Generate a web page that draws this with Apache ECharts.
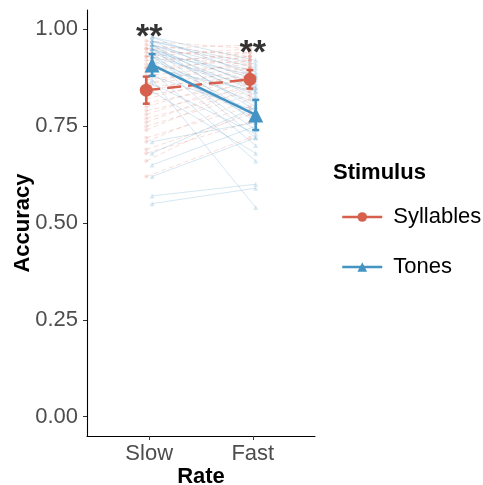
<!DOCTYPE html>
<html>
<head>
<meta charset="utf-8">
<script src="https://cdn.jsdelivr.net/npm/echarts@6/dist/echarts.min.js"></script>
<style>
  html, body { margin: 0; padding: 0; background: #fff; }
  #chart { width: 483px; height: 485px; }
</style>
</head>
<body>
<div id="chart"></div>
<script>
// categories and ticks
const rateNames = ['Slow', 'Fast'];
const yTicks = [0, 0.25, 0.5, 0.75, 1];

// per-subject accuracy (faint lines)
const syllSlow = [0.97, 0.96, 0.95, 0.95, 0.94, 0.93, 0.93, 0.92, 0.91, 0.90, 0.90, 0.89, 0.88, 0.87, 0.86, 0.86, 0.85,
  0.84, 0.83, 0.82, 0.81, 0.80, 0.79, 0.78, 0.77, 0.76, 0.75, 0.74, 0.72, 0.71, 0.69, 0.68, 0.66, 0.62];
const syllFast = [0.95, 0.93, 0.96, 0.92, 0.94, 0.95, 0.91, 0.93, 0.94, 0.90, 0.92, 0.93, 0.91, 0.90, 0.89, 0.92, 0.88,
  0.90, 0.87, 0.89, 0.86, 0.88, 0.85, 0.87, 0.84, 0.86, 0.83, 0.85, 0.80, 0.82, 0.78, 0.76, 0.79, 0.72];
const toneSlow = [0.98, 0.98, 0.97, 0.97, 0.97, 0.96, 0.96, 0.96, 0.96, 0.95, 0.95, 0.95, 0.95, 0.94, 0.94, 0.94, 0.93,
  0.93, 0.93, 0.92, 0.92, 0.91, 0.90, 0.89, 0.88, 0.87, 0.86, 0.84, 0.71, 0.68, 0.65, 0.62, 0.57, 0.55];
const toneFast = [0.92, 0.88, 0.90, 0.85, 0.91, 0.82, 0.87, 0.79, 0.89, 0.84, 0.76, 0.86, 0.80, 0.83, 0.72, 0.88, 0.78,
  0.85, 0.74, 0.81, 0.70, 0.77, 0.84, 0.66, 0.79, 0.54, 0.73, 0.68, 0.76, 0.80, 0.75, 0.72, 0.60, 0.59];

// group means and error bar half widths (Slow, Fast)
const syllMean = [0.843, 0.871];
const syllErr = [0.035, 0.024];
const toneMean = [0.908, 0.779];
const toneErr = [0.028, 0.039];

// significance marks (y position in data units)
const sigText = ['**', '**'];
const sigY = [0.979, 0.938];

const RED = '#D6604D';
const BLUE = '#4393C3';
const FONT = 'Liberation Sans, Arial, Helvetica, sans-serif';
const dodge = 0.028;

const chart = echarts.init(document.getElementById('chart'));

const series = [];

// faint subject lines
syllSlow.forEach((v, i) => {
  series.push({
    type: 'line',
    silent: true,
    data: [[1 - dodge, v], [2 - dodge, syllFast[i]]],
    symbol: 'circle',
    symbolSize: 4,
    itemStyle: { color: RED, opacity: 0.18 },
    lineStyle: { color: RED, width: 1, type: [5, 3], opacity: 0.2 },
    z: 1,
  });
});
toneSlow.forEach((v, i) => {
  series.push({
    type: 'line',
    silent: true,
    data: [[1 + dodge, v], [2 + dodge, toneFast[i]]],
    symbol: 'triangle',
    symbolSize: 5,
    itemStyle: { color: BLUE, opacity: 0.2 },
    lineStyle: { color: BLUE, width: 1, opacity: 0.22 },
    z: 1,
  });
});

// means
series.push({
  name: 'Syllables',
  type: 'line',
  data: syllMean.map((v, i) => [i + 1 - dodge, v]),
  symbol: 'circle',
  symbolSize: 13,
  itemStyle: { color: RED },
  lineStyle: { color: RED, width: 2.5, type: [14, 7] },
  z: 5,
});
series.push({
  name: 'Tones',
  type: 'line',
  data: toneMean.map((v, i) => [i + 1 + dodge, v]),
  symbol: 'triangle',
  symbolSize: 15,
  itemStyle: { color: BLUE },
  lineStyle: { color: BLUE, width: 2.5 },
  z: 5,
});

// error bars
function errBar(color) {
  return function (params, api) {
    const x = api.value(0);
    const lo = api.coord([x, api.value(1)]);
    const hi = api.coord([x, api.value(2)]);
    const w = 3.5;
    const st = { stroke: color, lineWidth: 2.5 };
    return {
      type: 'group',
      children: [
        { type: 'line', shape: { x1: lo[0], y1: lo[1], x2: hi[0], y2: hi[1] }, style: st },
        { type: 'line', shape: { x1: lo[0] - w, y1: lo[1], x2: lo[0] + w, y2: lo[1] }, style: st },
        { type: 'line', shape: { x1: hi[0] - w, y1: hi[1], x2: hi[0] + w, y2: hi[1] }, style: st },
      ],
    };
  };
}
series.push({
  type: 'custom',
  silent: true,
  renderItem: errBar(RED),
  data: syllMean.map((v, i) => [i + 1 - dodge, v - syllErr[i], v + syllErr[i]]),
  z: 6,
});
series.push({
  type: 'custom',
  silent: true,
  renderItem: errBar(BLUE),
  data: toneMean.map((v, i) => [i + 1 + dodge, v - toneErr[i], v + toneErr[i]]),
  z: 6,
});

// significance stars
series.push({
  type: 'scatter',
  silent: true,
  symbolSize: 0,
  data: sigY.map((v, i) => ({ value: [i + 1, v], label: { formatter: sigText[i] } })),
  label: {
    show: true,
    position: 'inside',
    color: '#000',
    fontSize: 34,
    fontWeight: 'bold',
    fontFamily: FONT,
    textBorderWidth: 0,
  },
  z: 7,
});

const option = {
  animation: false,
  grid: { left: 87, right: 168, top: 10, bottom: 49, containLabel: false, outerBoundsMode: 'none' },
  xAxis: {
    type: 'value',
    min: 0.4,
    max: 2.6,
    name: 'Rate',
    nameLocation: 'middle',
    nameGap: 30,
    nameMoveOverlap: false,
    nameTextStyle: { color: '#000', fontSize: 22, fontWeight: 'bold', fontFamily: FONT },
    axisLine: { onZero: false, lineStyle: { color: '#000', width: 1.1 } },
    axisTick: { show: true, length: 4, lineStyle: { color: '#333' }, customValues: [1, 2] },
    axisLabel: {
      customValues: [1, 2],
      formatter: (v) => rateNames[Math.round(v) - 1],
      color: '#4D4D4D',
      fontSize: 22,
      fontFamily: FONT,
      margin: 7,
    },
    splitLine: { show: false },
  },
  yAxis: {
    type: 'value',
    min: -0.05,
    max: 1.05,
    name: 'Accuracy',
    nameLocation: 'middle',
    nameGap: 53,
    nameMoveOverlap: false,
    nameTextStyle: { color: '#000', fontSize: 22, fontWeight: 'bold', fontFamily: FONT },
    axisLine: { show: true, onZero: false, lineStyle: { color: '#000', width: 1.1 } },
    axisTick: { show: true, length: 4, lineStyle: { color: '#333' }, customValues: yTicks },
    axisLabel: {
      customValues: yTicks,
      formatter: (v) => v.toFixed(2),
      color: '#4D4D4D',
      fontSize: 22,
      fontFamily: FONT,
      margin: 9,
    },
    splitLine: { show: false },
  },
  legend: {
    data: ['Syllables', 'Tones'],
    orient: 'vertical',
    left: 336,
    top: 201,
    itemWidth: 40,
    itemHeight: 12,
    itemGap: 28,
    lineStyle: { type: 'solid', width: 2.5 },
    textStyle: { color: '#000', fontSize: 22, fontFamily: FONT, padding: [0, 0, 0, 6] },
  },
  graphic: [{
    type: 'text',
    left: 333,
    top: 162,
    style: { text: 'Stimulus', fill: '#000', font: 'bold 22px ' + FONT },
  }],
  series: series,
};

chart.setOption(option);
</script>
</body>
</html>
